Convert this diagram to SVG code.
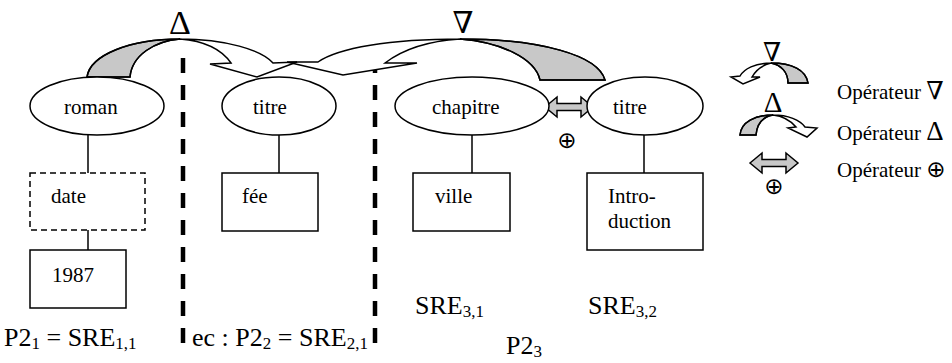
<svg xmlns="http://www.w3.org/2000/svg" width="952" height="363" viewBox="0 0 952 363" font-family="'Liberation Serif', 'Times New Roman', serif">
<style>
  text { font-family: 'Liberation Serif', 'Times New Roman', serif; fill: #000; }
  .t { font-size: 21px; }
  .lbl { font-size: 26px; }
  .sub { font-size: 17px; }
  .sym { font-size: 34px; text-anchor: middle; }
  .nab { font-family: 'DejaVu Serif', serif; font-size: 30px; text-anchor: middle; }
  .lsym { font-size: 27px; }
  .lnab { font-family: 'DejaVu Serif', serif; font-size: 25px; }
  .op { font-family: 'DejaVu Sans', sans-serif; font-size: 23px; }
  .node { fill: #fff; stroke: #000; stroke-width: 1.5; }
  .dashed { fill: #fff; stroke: #000; stroke-width: 1.5; stroke-dasharray: 6 4; }
  .edge { stroke: #000; stroke-width: 1.5; fill: none; }
  .sep { stroke: #000; stroke-width: 4.5; stroke-dasharray: 15 12; fill: none; }
  .arr { fill: none; stroke: #000; stroke-width: 1.5; stroke-linejoin: miter; }
  .gray { fill: #c8c8c8; stroke: #000; stroke-width: 1.5; }
</style>

<!-- separators -->
<g id="separators">
  <path class="sep" d="M183,58 V343"/>
  <path class="sep" d="M375,70 V343" stroke-dashoffset="12"/>
</g>

<!-- connectors -->
<g id="connectors">
  <path class="edge" d="M88,135 V173"/>
  <path class="edge" d="M88,230 V250"/>
  <path class="edge" d="M279,135 V173"/>
  <path class="edge" d="M472,135 V173"/>
  <path class="edge" d="M644,135 V173"/>
  <g id="op-delta">
    <path class="gray" d="M87,77 C90,55 130,39 180,39 C155,41 132,55 130,77 Z"/>
    <path class="arr" d="M87,77 C90,55 130,39 180,39 C225,39 262,50 273,63 L297,62 L257,77 L210,64 L231,63 C222,50 205,41 180,39 C155,41 132,55 130,77 Z"/>
  </g>
  <g id="op-nabla">
    <path class="gray" d="M605,80 C598,55 540,39 460,39 C500,42 535,58 540,80 Z"/>
    <path class="arr" d="M605,80 C598,55 540,39 460,39 C390,39 338,48 318,62 L287,62 L343,75 L417,63 L385,63 C402,50 428,41 460,39 C500,42 535,58 540,80 Z"/>
  </g>
  <g id="op-oplus">
    <path class="gray" d="M545,107 L557,97 L557,103.5 L581,103.5 L581,97 L593,107 L581,117 L581,110.5 L557,110.5 L557,117 Z"/>
  </g>
</g>

<text class="sym" x="180" y="34">Δ</text>
<text class="nab" x="463" y="33">∇</text>
<text class="op" x="567" y="148" text-anchor="middle">⊕</text>

<g id="node-roman">
  <ellipse class="node" cx="97" cy="106" rx="67" ry="29"/>
  <text class="t" x="64" y="114">roman</text>
</g>
<g id="node-titre1">
  <ellipse class="node" cx="279" cy="106" rx="57" ry="29"/>
  <text class="t" x="253" y="114">titre</text>
</g>
<g id="node-chapitre">
  <ellipse class="node" cx="472" cy="106" rx="77" ry="29"/>
  <text class="t" x="432" y="114">chapitre</text>
</g>
<g id="node-titre2">
  <ellipse class="node" cx="645" cy="106" rx="58" ry="29"/>
  <text class="t" x="613" y="114">titre</text>
</g>
<g id="node-date">
  <rect class="dashed" x="30" y="173" width="115" height="57"/>
  <text class="t" x="51" y="203">date</text>
</g>
<g id="node-1987">
  <rect class="node" x="30" y="250" width="96" height="58"/>
  <text class="t" x="52" y="282">1987</text>
</g>
<g id="node-fee">
  <rect class="node" x="222" y="173" width="96" height="58"/>
  <text class="t" x="242" y="203">fée</text>
</g>
<g id="node-ville">
  <rect class="node" x="413" y="173" width="97" height="58"/>
  <text class="t" x="435" y="203">ville</text>
</g>
<g id="node-intro">
  <rect class="node" x="587" y="173" width="116" height="77"/>
  <text class="t" x="608" y="203">Intro-</text>
  <text class="t" x="608" y="228">duction</text>
</g>

<g id="labels">
  <text class="lbl" x="4" y="346">P2<tspan class="sub" dy="3">1</tspan><tspan dy="-3"> = SRE</tspan><tspan class="sub" dy="3">1,1</tspan></text>
  <text class="lbl" x="192" y="346">ec : P2<tspan class="sub" dy="3">2</tspan><tspan dy="-3"> = SRE</tspan><tspan class="sub" dy="3">2,1</tspan></text>
  <text class="lbl" x="415" y="314">SRE<tspan class="sub" dy="3">3,1</tspan></text>
  <text class="lbl" x="588" y="314">SRE<tspan class="sub" dy="3">3,2</tspan></text>
  <text class="lbl" x="506" y="354">P2<tspan class="sub" dy="3">3</tspan></text>
</g>

<g id="legend">
  <text class="nab" x="772" y="61" style="font-size:26px">∇</text>
  <path class="gray" d="M808,83 C806,70 792,63 771,63 C781,65 788,72 788,83 Z"/>
  <path class="arr" d="M808,83 C806,70 792,63 771,63 C755,63 744,69 740,76 L731,77 L743,84 L760,77 L752,77 C756,70 763,65 771,63 C781,65 788,72 788,83 Z"/>
  <text class="sym" x="773" y="112" style="font-size:29px">Δ</text>
  <path class="gray" d="M740,135 C741,122 755,115 773,115 C762,117 757,124 756,135 Z"/>
  <path class="arr" d="M740,135 C741,122 755,115 773,115 C788,115 800,120 805,127 L817,128 L807,137 L788,128 L796,127 C790,120 782,116 773,115 C762,117 757,124 756,135 Z"/>
  <path class="gray" d="M750,163 L762,153 L762,159.5 L786,159.5 L786,153 L798,163 L786,173 L786,166.5 L762,166.5 L762,173 Z"/>
  <text class="op" x="774" y="194" text-anchor="middle">⊕</text>
  <text class="t" x="837" y="99">Opérateur <tspan class="lnab">∇</tspan></text>
  <text class="t" x="837" y="140">Opérateur <tspan class="lsym">Δ</tspan></text>
  <text class="t" x="837" y="177">Opérateur <tspan class="op">⊕</tspan></text>
</g>
</svg>
